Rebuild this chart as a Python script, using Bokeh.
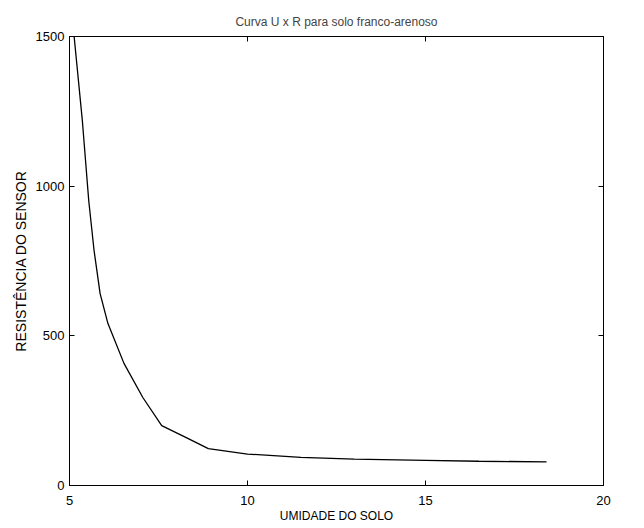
from bokeh.plotting import figure
from bokeh.models import LinearAxis, Range1d, FixedTicker
from bokeh.embed import file_html
from bokeh.resources import INLINE

umidade = [5.13, 5.36, 5.54, 5.69, 5.86, 6.08, 6.53, 7.06, 7.59, 8.28, 8.9, 10.0, 11.5, 13.0, 15.0, 16.5, 18.4]
resistencia = [1500, 1220, 952, 785, 641, 541, 408, 294, 200, 160, 123, 105, 94, 88, 84, 81, 79]
x_ticks = [5, 10, 15, 20]
y_ticks = [0, 500, 1000, 1500]

FONT = "Liberation Sans"

p = figure(width=644, height=528, output_backend="svg", toolbar_location=None,
           x_range=Range1d(5, 20), y_range=Range1d(0, 1500),
           min_border_left=69, min_border_right=41, min_border_top=36, min_border_bottom=43,
           background_fill_color="white", border_fill_color="white")

p.title.text = "Curva U x R para solo franco-arenoso"
p.title.align = "center"
p.title.text_font = FONT
p.title.text_font_size = "12px"
p.title.text_font_style = "normal"
p.title.standoff = 16

p.xgrid.visible = False
p.ygrid.visible = False
p.outline_line_color = "black"
p.outline_line_width = 1

p.line(umidade, resistencia, line_color="black", line_width=1.3)

def style(ax):
    ax.axis_line_color = "black"
    ax.major_tick_in = 5
    ax.major_tick_out = 0
    ax.minor_tick_line_color = None
    ax.major_tick_line_color = "black"
    ax.major_label_text_font = FONT
    ax.major_label_text_font_size = "13px"
    ax.major_label_text_color = "black"
    ax.axis_label_text_font = FONT
    ax.axis_label_text_font_size = "12px"
    ax.axis_label_text_font_style = "normal"
    ax.axis_label_text_color = "black"

p.xaxis.ticker = FixedTicker(ticks=x_ticks)
p.yaxis.ticker = FixedTicker(ticks=y_ticks)
p.xaxis.axis_label = "UMIDADE DO SOLO"
p.yaxis.axis_label = "RESISTÊNCIA DO SENSOR"
style(p.xaxis[0])
style(p.yaxis[0])
p.yaxis.axis_label_text_font_size = "14px"
p.xaxis.major_label_standoff = 10
p.yaxis.major_label_standoff = 5
p.xaxis.axis_label_standoff = 1
p.yaxis.axis_label_standoff = 4

top = LinearAxis(ticker=FixedTicker(ticks=x_ticks))
style(top)
top.major_label_text_color = None
p.add_layout(top, "above")
right = LinearAxis(ticker=FixedTicker(ticks=y_ticks))
style(right)
right.major_label_text_color = None
p.add_layout(right, "right")

open("out.html", "w").write(file_html(p, INLINE))
